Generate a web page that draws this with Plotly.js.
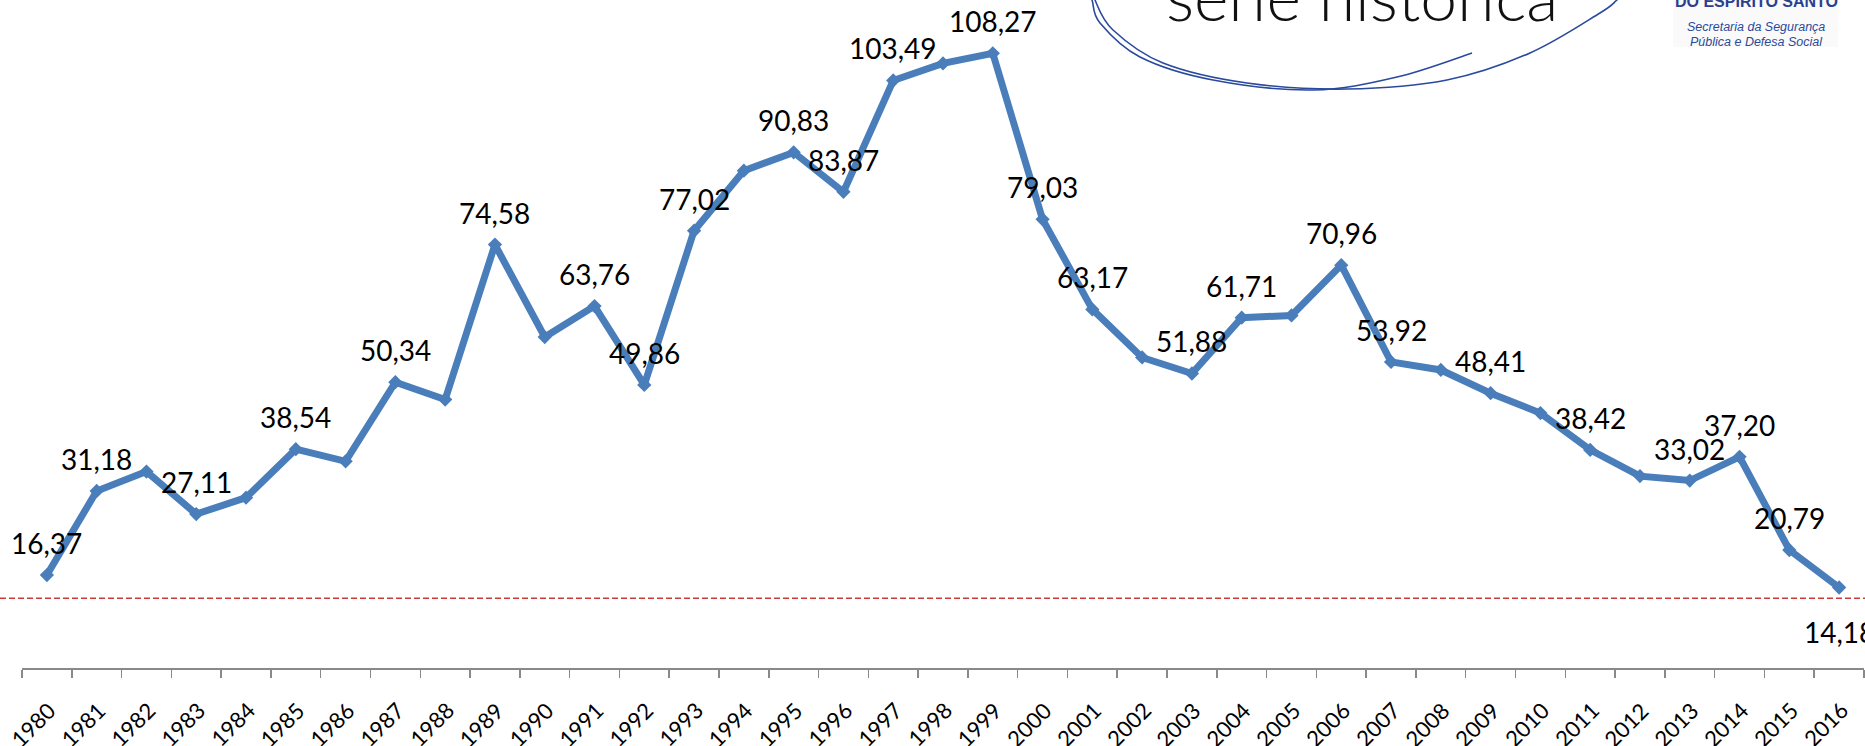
<!DOCTYPE html>
<html><head><meta charset="utf-8">
<script src="https://cdn.plot.ly/plotly-3.0.1.min.js"></script>
<style>html,body{margin:0;padding:0;background:#fff;overflow:hidden}</style>
</head><body><div id="chart" style="width:1865px;height:746px"></div>
<script>
// ---- data ----
const years = ['1980','1981','1982','1983','1984','1985','1986','1987','1988','1989',
  '1990','1991','1992','1993','1994','1995','1996','1997','1998','1999',
  '2000','2001','2002','2003','2004','2005','2006','2007','2008','2009',
  '2010','2011','2012','2013','2014','2015','2016'];
const rates = [16.37,31.18,34.6,27.11,30.0,38.54,36.4,50.34,47.3,74.58,
  58.3,63.76,49.86,77.02,87.6,90.83,83.87,103.49,106.5,108.27,
  79.03,63.17,54.7,51.88,61.71,62.1,70.96,53.92,52.5,48.41,
  44.9,38.42,33.8,33.02,37.20,20.79,14.18];
const labeledYears = ['1980','1981','1983','1985','1987','1989','1991','1992','1993','1995',
  '1996','1997','1999','2000','2001','2003','2004','2006','2007','2009','2011','2013','2014','2015','2016'];
const referenceLevel = 12.3;
const headline = 'série histórica';
const logoLines = ['DO ESPIRITO SANTO','Secretaria da Segurança','Pública e Defesa Social'];

// ---- layout helpers (styles / positions) ----
const W = 1865, H = 746, M = {l:22, r:1, t:0, b:78};
const PW = W - M.l - M.r, PH = H - M.t - M.b;
const px2x = p => (p - M.l) / PW;
const px2y = p => 1 - (p - M.t) / PH;
const labelsBelow = ['2016'];
const fmt = v => v.toFixed(2).replace('.', ',');

function smoothPath(pts){
  const P = pts.map(([x,y]) => [px2x(x), px2y(y)]);
  let d = `M${P[0][0]},${P[0][1]}`;
  for (let i = 0; i < P.length - 1; i++){
    const p0 = P[i-1] || P[i], p1 = P[i], p2 = P[i+1], p3 = P[i+2] || P[i+1];
    const c1 = [p1[0] + (p2[0]-p0[0])/6, p1[1] + (p2[1]-p0[1])/6];
    const c2 = [p2[0] - (p3[0]-p1[0])/6, p2[1] - (p3[1]-p1[1])/6];
    d += ` C${c1[0]},${c1[1]} ${c2[0]},${c2[1]} ${p2[0]},${p2[1]}`;
  }
  return d;
}

const blue = '#4a7ebb';
const trace = {
  type:'scatter', mode:'lines+markers', x: years, y: rates,
  line:{color: blue, width: 7},
  marker:{symbol:'diamond', size: 11, color: blue},
  cliponaxis:false, hoverinfo:'skip', showlegend:false
};

const annotations = labeledYears.map(yr => {
  const i = years.indexOf(yr);
  const below = labelsBelow.includes(yr);
  return {x: i, y: rates[i], xref:'x', yref:'y', text: fmt(rates[i]), showarrow:false,
    font:{family:'Lato, Carlito, sans-serif', size:28, color:'#000'},
    xanchor:'center', yanchor:'middle', yshift: below ? -44 : 32};
});

// rotated category labels under the axis
years.forEach((yr, i) => {
  annotations.push({x: i, xref:'x', yref:'paper', y: px2y(724), xshift:-14, text: yr, showarrow:false,
    textangle:-45, xanchor:'center', yanchor:'middle',
    font:{family:'Lato, Carlito, sans-serif', size:22, color:'#000'}});
});

annotations.push({xref:'paper', yref:'paper', x: px2x(1362), y: px2y(21), xanchor:'center', yanchor:'bottom',
  yshift:-16, text: headline, showarrow:false,
  font:{family:'Lato, sans-serif', size:66, color:'#111', weight:300}});
annotations.push({xref:'paper', yref:'paper', x: px2x(1756), y: px2y(9), xanchor:'center', yanchor:'bottom',
  yshift:-3, text: '<b>' + logoLines[0] + '</b>', showarrow:false,
  font:{family:'Liberation Sans, Arial, sans-serif', size:16, color:'#2b3f8f'}});
annotations.push({xref:'paper', yref:'paper', x: px2x(1756), y: px2y(27), xanchor:'center', yanchor:'middle',
  text: '<i>' + logoLines[1] + '</i>', showarrow:false,
  font:{family:'Liberation Sans Narrow, Liberation Sans, sans-serif', size:12.5, color:'#2b4a9b'}});
annotations.push({xref:'paper', yref:'paper', x: px2x(1756), y: px2y(42), xanchor:'center', yanchor:'middle',
  text: '<i>' + logoLines[2] + '</i>', showarrow:false,
  font:{family:'Liberation Sans Narrow, Liberation Sans, sans-serif', size:12.5, color:'#2b4a9b'}});

const circleColor = '#2a4a9e';
const shapes = [
  {type:'line', xref:'paper', yref:'y', x0: px2x(0), x1: px2x(W), y0: referenceLevel, y1: referenceLevel,
   line:{color:'#c83c3c', width:1.5, dash:'6px,3px'}, layer:'below'},
  {type:'rect', xref:'paper', yref:'paper', x0: px2x(1673), x1: px2x(1838), y0: px2y(47), y1: px2y(-2),
   fillcolor:'#fafafa', line:{width:0}, layer:'below'},
  {type:'path', xref:'paper', yref:'paper', line:{color: circleColor, width:1.6},
   path: smoothPath([[1086,-15],[1092,0],[1100,23],[1140,57],[1213,80],[1313,90],[1397,77],[1472,53]])},
  {type:'path', xref:'paper', yref:'paper', line:{color: circleColor, width:1.6},
   path: smoothPath([[1092,-15],[1095,0],[1113,30],[1163,63],[1247,83],[1347,89],[1447,80],[1530,53],[1600,13],[1617,0],[1630,-12]])}
];

const layout = {
  width: W, height: H, margin: M, paper_bgcolor:'#fff', plot_bgcolor:'#fff',
  showlegend:false,
  xaxis:{type:'category', range:[-0.5, 36.5], showline:true, linecolor:'#898989', linewidth:1.5,
    ticks:'outside', ticklen:8, tickcolor:'#898989', tickwidth:1.5, tickson:'boundaries',
    showticklabels:false, showgrid:false, zeroline:false, fixedrange:true},
  yaxis:{range:[0, PH/5.677], visible:false, fixedrange:true},
  annotations, shapes
};

Plotly.newPlot('chart', [trace], layout, {staticPlot:true, displayModeBar:false});
</script></body></html>
